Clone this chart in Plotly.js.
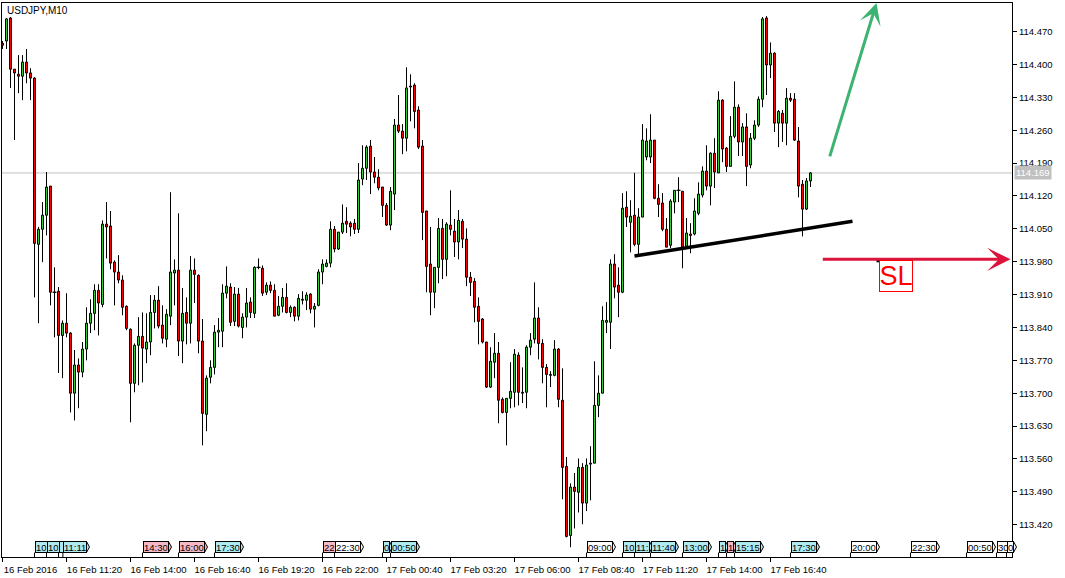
<!DOCTYPE html>
<html>
<head>
<meta charset="utf-8">
<script src="https://cdn.plot.ly/plotly-3.0.1.min.js"></script>
<style>
  html, body { margin: 0; padding: 0; background: #ffffff; }
  #chart { width: 1065px; height: 578px; }
</style>
</head>
<body>
<div id="chart"></div>
<script>
// ---- data (USDJPY, M10), bar 0 = 16 Feb 2016 08:40 ----
const symbolTitle = "USDJPY,M10";
const barStart = "2016-02-16T08:40:00Z";
const barMinutes = 10;

const open = [
114.445,114.450,114.499,114.390,114.379,114.375,114.405,114.382,114.371,114.017,
114.049,114.079,114.141,113.915,113.917,113.823,113.849,113.828,113.700,113.760,
113.745,113.794,113.849,113.870,113.919,113.889,114.060,114.056,113.979,113.958,
113.941,113.885,113.836,113.721,113.802,113.821,113.794,113.809,113.872,113.898,
113.845,113.815,113.864,113.956,113.962,113.811,113.872,113.849,113.962,113.951,
113.811,113.655,113.734,113.755,113.830,113.832,113.913,113.926,113.853,113.911,
113.840,113.862,113.894,113.870,113.968,113.966,113.915,113.930,113.919,113.866,
113.885,113.904,113.872,113.883,113.864,113.900,113.898,113.911,113.879,113.887,
113.958,113.970,113.977,114.049,114.007,114.043,114.066,114.062,114.062,114.049,
114.156,114.179,114.226,114.171,114.160,114.139,114.100,114.058,114.124,114.271,
114.258,114.243,114.354,114.356,114.303,114.226,114.088,113.975,113.915,113.968,
114.051,113.985,114.058,114.045,114.022,114.066,114.028,113.947,113.938,113.885,
113.858,113.809,113.713,113.766,113.785,113.687,113.659,113.689,113.702,113.781,
113.702,113.702,113.798,113.815,113.860,113.806,113.755,113.740,113.738,113.794,
113.685,113.544,113.397,113.500,113.489,113.542,113.466,113.549,113.551,113.674,
113.700,113.851,113.851,113.975,113.930,113.915,114.096,114.064,114.079,114.017,
114.075,114.203,114.203,114.239,114.115,114.105,114.049,114.015,114.107,114.132,
114.130,114.013,114.039,114.039,114.083,114.122,114.173,114.141,114.211,114.169,
114.324,114.222,114.183,114.247,114.309,114.235,114.267,114.186,114.243,114.271,
114.326,114.499,114.399,114.424,114.275,114.296,114.275,114.328,114.326,114.237,
114.145,114.092,114.152
];
const high = [
114.450,114.499,114.501,114.390,114.420,114.420,114.433,114.392,114.373,114.054,
114.107,114.171,114.141,113.968,113.926,113.855,113.913,113.830,113.792,113.774,
113.809,113.883,113.900,113.932,113.932,114.068,114.107,114.088,113.983,113.994,
113.951,113.887,113.838,113.806,113.862,113.872,113.870,113.909,113.909,113.928,
113.887,113.879,114.128,113.985,114.083,113.924,113.904,113.992,113.987,113.953,
113.858,113.738,113.770,113.845,113.860,113.932,113.970,113.934,113.926,113.924,
113.870,113.924,113.904,113.970,113.987,113.972,113.936,113.938,113.932,113.907,
113.924,113.934,113.887,113.885,113.911,113.917,113.915,113.913,113.892,113.964,
113.985,113.985,114.066,114.056,114.043,114.102,114.096,114.066,114.071,114.190,
114.228,114.228,114.239,114.203,114.177,114.139,114.105,114.139,114.284,114.335,
114.273,114.394,114.379,114.360,114.311,114.239,114.088,114.054,113.968,114.073,
114.071,114.064,114.132,114.071,114.090,114.071,114.051,113.958,113.945,113.904,
113.860,113.809,113.798,113.828,113.809,113.691,113.689,113.766,113.794,113.787,
113.755,113.802,113.828,113.936,113.883,113.815,113.762,113.747,113.813,113.796,
113.753,113.564,113.508,113.530,113.561,113.551,113.561,113.587,113.768,113.738,
113.885,113.894,113.985,113.996,113.968,114.126,114.130,114.111,114.169,114.094,
114.273,114.264,114.294,114.239,114.145,114.126,114.073,114.113,114.132,114.160,
114.130,114.073,114.062,114.115,114.149,114.183,114.228,114.213,114.243,114.343,
114.326,114.224,114.290,114.364,114.315,114.275,114.296,114.254,114.281,114.332,
114.501,114.503,114.447,114.426,114.303,114.303,114.350,114.339,114.339,114.267,
114.154,114.158,114.171
];
const low = [
114.433,114.433,114.350,114.239,114.339,114.324,114.360,114.324,113.904,113.849,
113.979,114.036,113.887,113.819,113.743,113.732,113.819,113.659,113.642,113.668,
113.734,113.770,113.828,113.834,113.823,113.883,113.987,113.964,113.887,113.934,
113.866,113.834,113.638,113.702,113.717,113.723,113.764,113.781,113.838,113.838,
113.806,113.798,113.845,113.887,113.779,113.764,113.804,113.806,113.892,113.785,
113.589,113.619,113.721,113.740,113.798,113.798,113.902,113.843,113.843,113.840,
113.817,113.840,113.860,113.860,113.964,113.907,113.909,113.913,113.864,113.864,
113.872,113.870,113.862,113.853,113.855,113.889,113.877,113.870,113.840,113.885,
113.932,113.968,113.968,114.000,114.005,114.039,114.041,114.034,114.039,114.041,
114.143,114.154,114.124,114.147,114.132,114.075,114.056,114.047,114.090,114.254,
114.209,114.215,114.279,114.264,114.220,114.026,113.915,113.866,113.881,113.934,
113.943,113.949,114.036,113.990,113.985,114.009,113.928,113.907,113.851,113.804,
113.806,113.711,113.711,113.732,113.636,113.657,113.589,113.668,113.670,113.674,
113.679,113.668,113.781,113.806,113.772,113.721,113.670,113.713,113.736,113.670,
113.474,113.393,113.372,113.412,113.446,113.421,113.449,113.472,113.551,113.649,
113.700,113.828,113.794,113.902,113.862,113.913,114.054,114.000,114.013,113.996,
114.075,114.196,114.190,114.113,114.075,114.045,114.011,114.009,114.083,114.107,
113.966,114.009,113.998,114.036,114.079,114.117,114.132,114.100,114.137,114.169,
114.192,114.171,114.183,114.243,114.205,114.205,114.141,114.179,114.239,114.267,
114.309,114.335,114.371,114.256,114.224,114.235,114.228,114.320,114.237,114.117,
114.034,114.090,114.139
];
const close = [
114.441,114.497,114.390,114.382,114.375,114.405,114.382,114.371,114.019,114.049,
114.079,114.139,113.915,113.915,113.823,113.849,113.828,113.700,113.760,113.745,
113.794,113.849,113.870,113.919,113.892,114.060,114.054,113.977,113.958,113.941,
113.883,113.838,113.721,113.802,113.821,113.796,113.809,113.872,113.898,113.843,
113.817,113.868,113.958,113.962,113.811,113.870,113.849,113.962,113.953,113.811,
113.657,113.732,113.755,113.830,113.834,113.913,113.928,113.851,113.911,113.843,
113.862,113.892,113.872,113.968,113.968,113.913,113.930,113.919,113.864,113.885,
113.904,113.872,113.883,113.864,113.902,113.898,113.909,113.879,113.885,113.958,
113.975,113.977,114.049,114.007,114.043,114.062,114.060,114.054,114.049,114.154,
114.179,114.224,114.171,114.160,114.137,114.100,114.058,114.130,114.271,114.258,
114.243,114.350,114.352,114.300,114.224,114.085,113.970,113.915,113.968,114.051,
113.985,114.060,114.049,114.022,114.068,114.028,113.947,113.936,113.883,113.853,
113.809,113.713,113.768,113.785,113.685,113.659,113.689,113.704,113.783,113.702,
113.700,113.798,113.813,113.860,113.806,113.755,113.740,113.738,113.794,113.687,
113.542,113.395,113.500,113.491,113.542,113.466,113.547,113.551,113.674,113.700,
113.855,113.855,113.975,113.926,113.915,114.094,114.075,114.077,114.017,114.075,
114.239,114.237,114.239,114.115,114.102,114.049,114.011,114.109,114.132,114.132,
114.011,114.041,114.036,114.088,114.124,114.173,114.141,114.211,114.171,114.324,
114.220,114.183,114.247,114.309,114.235,114.267,114.183,114.243,114.271,114.326,
114.497,114.399,114.424,114.275,114.300,114.275,114.328,114.324,114.239,114.141,
114.092,114.152,114.169
];

// time axis labels: bar index -> label
const timeTickBars = [0,16,32,48,64,80,96,112,128,144,160,176,192];
const timeTickText = ["16 Feb 2016","16 Feb 11:20","16 Feb 14:00","16 Feb 16:40","16 Feb 19:20",
  "16 Feb 22:00","17 Feb 00:40","17 Feb 03:20","17 Feb 06:00","17 Feb 08:40",
  "17 Feb 11:20","17 Feb 14:00","17 Feb 16:40"];

// price scale
const priceTick0 = 113.420;
const priceStep = 0.070;
const priceRange = [113.3512, 114.5309];

// calendar event markers on the time axis
const eventTimes = ["2016-02-16T10:00Z","2016-02-16T10:30Z","2016-02-16T11:00Z","2016-02-16T11:11Z",
  "2016-02-16T14:30Z","2016-02-16T16:00Z","2016-02-16T17:30Z","2016-02-16T22:00Z","2016-02-16T22:30Z",
  "2016-02-17T00:30Z","2016-02-17T00:50Z","2016-02-17T09:00Z","2016-02-17T10:30Z","2016-02-17T11:00Z",
  "2016-02-17T11:40Z","2016-02-17T13:00Z","2016-02-17T14:30Z","2016-02-17T14:50Z","2016-02-17T15:10Z",
  "2016-02-17T17:30Z","2016-02-17T20:00Z","2016-02-17T22:30Z","2016-02-18T00:50Z","2016-02-18T02:05Z",
  "2016-02-18T02:30Z"];
const eventLabels = ["10","10","","11:11","14:30","16:00","17:30","22","22:30","0","00:50","09:00",
  "10","11:","11:40","13:00","1","1","15:15","17:30","20:00","22:30","00:50","30","0"];
const eventLevel = ["low","low","low","low","high","high","low","high","none","low","low","none",
  "low","low","low","low","low","high","low","low","none","none","none","none","none"];

// drawn objects (time, price)
const trendLine = { t0: "2016-02-17T11:00Z", p0: 113.992, t1: "2016-02-17T20:05Z", p1: 114.066 };
const upArrow   = { t0: "2016-02-17T19:07Z", p0: 114.201, t1: "2016-02-17T21:05Z", p1: 114.531 };
const slArrow   = { t0: "2016-02-17T18:47Z", p0: 113.985, t1: "2016-02-18T02:40Z", p1: 113.985 };
const slLabel   = { t: "2016-02-17T21:10Z", p: 113.983, text: "SL" };

// ---- rendering ----
const startMs = Date.parse(barStart);
function barPos(t) { return (Date.parse(t) - startMs) / (barMinutes * 60000); }
const bars = open.map((_, i) => i);

const bodyLow = open.map((o, i) => Math.min(o, close[i]));
const bodyHigh = open.map((o, i) => Math.max(o, close[i]));
const bodySize = open.map((o, i) => Math.abs(close[i] - o));
const bodyColor = open.map((o, i) => close[i] >= o ? "#32CD32" : "#FF0000");

// wicks as two segments (above and below the body)
const wickX = [], wickY = [];
bars.forEach(i => {
  wickX.push(i, i, null, i, i, null);
  wickY.push(high[i], bodyHigh[i], null, bodyLow[i], low[i], null);
});
const dojiBars = bars.filter(i => bodySize[i] === 0);

const levelColor = { low: "#AEEAF0", high: "#F6B8C4", none: "#FFFFFF" };
const axisFont = { family: "Liberation Sans, Arial, sans-serif", size: 9.5, color: "#000000" };

const traces = [
  {
    type: "bar", x: bars, base: bodyLow, y: bodySize, width: 0.5,
    marker: { color: bodyColor, line: { color: "#000000", width: 1 } },
    hoverinfo: "skip", showlegend: false
  },
  {
    type: "scatter", mode: "lines", x: wickX, y: wickY,
    line: { color: "#000000", width: 1 }, connectgaps: false,
    hoverinfo: "skip", showlegend: false
  },
  {
    type: "scatter", mode: "markers",
    x: dojiBars, y: dojiBars.map(i => open[i]),
    marker: { symbol: "line-ew", size: 3, line: { color: "#000000", width: 1 } },
    hoverinfo: "skip", showlegend: false
  },
  {
    type: "scatter", mode: "lines",
    x: [barPos(trendLine.t0), barPos(trendLine.t1)],
    y: [trendLine.p0, trendLine.p1],
    line: { color: "#000000", width: 3.5 },
    hoverinfo: "skip", showlegend: false
  },
  {
    type: "scatter", mode: "markers",
    x: [barPos(slLabel.t)], y: [slLabel.p],
    marker: { symbol: "square", size: 4, color: "#000000" },
    hoverinfo: "skip", showlegend: false, cliponaxis: false
  }
];

const lastClose = close[close.length - 1];
const annotations = [
  { xref: "paper", yref: "paper", x: 0, y: 1, xanchor: "left", yanchor: "top", xshift: 3, yshift: 0,
    text: symbolTitle, showarrow: false, font: { family: axisFont.family, size: 10, color: "#000" } },
  { xref: "paper", yref: "y", x: 1, y: lastClose, xanchor: "left", yanchor: "middle", xshift: 2,
    text: lastClose.toFixed(3), showarrow: false, bgcolor: "#C0C0C0", borderpad: 1,
    font: { family: axisFont.family, size: 9.5, color: "#FFFFFF" } },
  { xref: "x", yref: "y", axref: "x", ayref: "y",
    x: barPos(upArrow.t1), y: upArrow.p1, ax: barPos(upArrow.t0), ay: upArrow.p0,
    text: "", showarrow: true, arrowhead: 3, arrowsize: 1.2, arrowwidth: 3, arrowcolor: "#3CB371" },
  { xref: "x", yref: "y", axref: "x", ayref: "y",
    x: barPos(slArrow.t1), y: slArrow.p1, ax: barPos(slArrow.t0), ay: slArrow.p0,
    text: "", showarrow: true, arrowhead: 3, arrowsize: 1.3, arrowwidth: 3, arrowcolor: "#DC143C" },
  { xref: "x", yref: "y", x: barPos(slLabel.t), y: slLabel.p, xanchor: "left", yanchor: "top",
    text: slLabel.text, showarrow: false, bgcolor: "#FFFFFF", bordercolor: "#FF0000", borderwidth: 1,
    borderpad: 0, width: 32, height: 30,
    font: { family: "Liberation Sans, Arial, sans-serif", size: 27, color: "#FF0000" } }
];
const firstEventAnn = annotations.length;

const shapes = [
  { type: "line", xref: "paper", yref: "y", x0: 0, x1: 1, y0: lastClose, y1: lastClose,
    line: { color: "#C0C0C0", width: 1 }, layer: "below" }
];

eventTimes.forEach((t, k) => {
  const pos = barPos(t);
  annotations.push({
    xref: "x", yref: "paper", x: pos, y: 0, xanchor: "left", yanchor: "bottom", yshift: 4,
    text: eventLabels[k] === "" ? " " : eventLabels[k], showarrow: false,
    bgcolor: levelColor[eventLevel[k]], bordercolor: "#000000", borderwidth: 1, borderpad: 0,
    height: 10, font: { family: axisFont.family, size: 9.5, color: "#000" }
  });
  shapes.push({ type: "line", xref: "x", yref: "paper", x0: pos, x1: pos, y0: 0, y1: 0.008,
    line: { color: "#000000", width: 1 } });
});

const layout = {
  width: 1065, height: 578,
  margin: { l: 2, r: 53, t: 3, b: 21, pad: 0 },
  paper_bgcolor: "#FFFFFF", plot_bgcolor: "#FFFFFF",
  font: axisFont,
  showlegend: false,
  bargap: 0,
  xaxis: {
    type: "linear", range: [-0.125, 252.375], fixedrange: true,
    showgrid: false, zeroline: false,
    showline: true, linecolor: "#000000", linewidth: 1, mirror: true,
    ticks: "outside", ticklen: 4, tickcolor: "#000000",
    tickmode: "array", tickvals: timeTickBars, ticktext: timeTickText,
    ticklabelshift: 28, tickfont: axisFont
  },
  yaxis: {
    side: "right", range: priceRange, fixedrange: true,
    showgrid: false, zeroline: false,
    showline: true, linecolor: "#000000", linewidth: 1, mirror: true,
    ticks: "outside", ticklen: 4, tickcolor: "#000000",
    tick0: priceTick0, dtick: priceStep, tickformat: ".3f", tickfont: axisFont
  },
  annotations: annotations,
  shapes: shapes
};

const gd = document.getElementById("chart");
Plotly.newPlot(gd, traces, layout, { staticPlot: true, displayModeBar: false }).then(() => {
  const sz = gd._fullLayout._size;
  const root = gd.getBoundingClientRect();
  const tips = [];
  eventTimes.forEach((t, k) => {
    const g = gd.querySelector('.annotation[data-index="' + (firstEventAnn + k) + '"] rect.bg');
    if (!g) return;
    const r = g.getBoundingClientRect();
    const right = r.right - root.left, top = r.top - root.top, bot = r.bottom - root.top;
    const px2x = v => (v - sz.l) / sz.w;
    const px2y = v => (sz.t + sz.h - v) / sz.h;
    const mid = (top + bot) / 2;
    tips.push({
      type: "path", xref: "paper", yref: "paper", layer: "above",
      path: "M" + px2x(right) + "," + px2y(top) + " L" + px2x(right + 3) + "," + px2y(mid) +
            " L" + px2x(right) + "," + px2y(bot) + " Z",
      fillcolor: levelColor[eventLevel[k]], line: { color: "#000000", width: 1 }
    });
  });
  return Plotly.relayout(gd, { shapes: shapes.concat(tips) });
});
</script>
</body>
</html>
